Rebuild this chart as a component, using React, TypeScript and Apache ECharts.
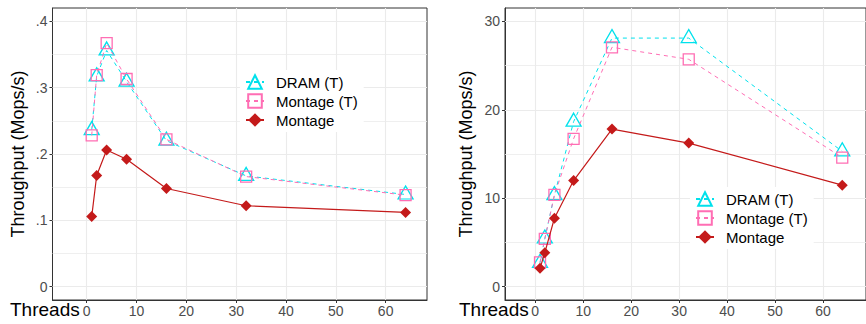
import React, { useEffect, useRef } from "react";
import * as echarts from "echarts";

const threads = [1, 2, 4, 8, 16, 32, 64];

const leftDram = [0.236, 0.317, 0.356, 0.309, 0.22, 0.167, 0.139];
const leftMontageT = [0.228, 0.319, 0.367, 0.313, 0.222, 0.166, 0.138];
const leftMontage = [0.1057, 0.1676, 0.206, 0.192, 0.148, 0.122, 0.112];

const rightDram = [2.7, 5.45, 10.35, 18.65, 28.1, 28.1, 15.3];
const rightMontageT = [2.76, 5.4, 10.38, 16.72, 27.06, 25.7, 14.6];
const rightMontage = [2.08, 3.85, 7.74, 12.0, 17.82, 16.23, 11.48];

const xTicks = [0, 10, 20, 30, 40, 50, 60];
const leftYTicks = [0, 0.1, 0.2, 0.3, 0.4];
const leftYMinor = [0.05, 0.15, 0.25, 0.35];
const rightYTicks = [0, 10, 20, 30];
const rightYMinor = [5, 15, 25];

const seriesNames = ["DRAM (T)", "Montage (T)", "Montage"];

const CYAN = "#00E1EC";
const PINK = "#FF6EB4";
const RED = "#C41A1A";
const FONT = "'Liberation Sans', Arial, Helvetica, sans-serif";

function fmtLeft(v: number) {
  if (v === 0) return "0";
  return String(Math.round(v * 10) / 10).replace(/^0/, "");
}

export default function App() {
  const ref = useRef<HTMLDivElement>(null);
  useEffect(() => {
    const chart = echarts.init(ref.current!, null, { renderer: "svg", width: 866, height: 324 });

    const grids = [
      { left: 52.5, top: 8, width: 374.5, height: 292 },
      { left: 505, top: 8, width: 374, height: 292 },
    ];
    const xRanges = [
      [-6.87, 68.3],
      [-6.3, 68.95],
    ];
    const yRanges = [
      [-0.02, 0.42],
      [-1.5, 31.5],
    ];
    const yTicks = [leftYTicks, rightYTicks];
    const yMinor = [leftYMinor, rightYMinor];
    const data = [
      [leftDram, leftMontageT, leftMontage],
      [rightDram, rightMontageT, rightMontage],
    ];

    const series: any[] = [];
    for (let g = 0; g < 2; g++) {
      series.push({
        type: "line",
        xAxisIndex: g,
        yAxisIndex: g,
        data: [],
        silent: true,
        z: 1,
        markLine: {
          silent: true,
          z: 1,
          symbol: ["none", "none"],
          label: { show: false },
          emphasis: { disabled: true },
          lineStyle: { color: "#EBEBEB", width: 1.1, type: "solid" },
          data: [
            ...yTicks[g].map((v) => ({ yAxis: v })),
            ...yMinor[g].map((v) => ({ yAxis: v, lineStyle: { width: 0.8, color: "#EBEBEB", type: "solid" } })),
            ...xTicks.map((v) => ({ xAxis: v })),
          ],
        },
      });
      const [dram, mt, m] = data[g];
      series.push({
        type: "line",
        name: seriesNames[0],
        xAxisIndex: g,
        yAxisIndex: g,
        data: threads.map((t, i) => [t, dram[i]]),
        symbol: "triangle",
        symbolSize: [15, 13],
        symbolOffset: [0, -2],
        lineStyle: { color: CYAN, width: 1, type: [4, 4] },
        itemStyle: { color: "rgba(0,0,0,0)", borderColor: CYAN, borderWidth: 1.3 },
        z: 3,
      });
      series.push({
        type: "line",
        name: seriesNames[1],
        xAxisIndex: g,
        yAxisIndex: g,
        data: threads.map((t, i) => [t, mt[i]]),
        symbol: "rect",
        symbolSize: 11,
        lineStyle: { color: PINK, width: 1, type: [4, 4] },
        itemStyle: { color: "rgba(0,0,0,0)", borderColor: PINK, borderWidth: 1.3 },
        z: 4,
      });
      series.push({
        type: "line",
        name: seriesNames[2],
        xAxisIndex: g,
        yAxisIndex: g,
        data: threads.map((t, i) => [t, m[i]]),
        symbol: "diamond",
        symbolSize: 11,
        lineStyle: { color: RED, width: 1.2, type: "solid" },
        itemStyle: { color: RED },
        z: 5,
      });
    }

    const option: any = {
      animation: false,
      textStyle: { fontFamily: FONT },
      grid: grids.map((gr) => ({
        ...gr,
        show: true,
        borderColor: "#333333",
        borderWidth: 1,
        backgroundColor: "rgba(0,0,0,0)",
        containLabel: false,
      })),
      xAxis: [0, 1].map((g) => ({
        type: "value",
        gridIndex: g,
        min: xRanges[g][0],
        max: xRanges[g][1],
        axisLine: { show: true, onZero: false, lineStyle: { color: "#333333", width: 1 } },
        axisTick: { show: true, customValues: xTicks, length: 3, lineStyle: { color: "#333333" } },
        axisLabel: {
          show: true,
          customValues: xTicks,
          color: "#4D4D4D",
          fontSize: 14,
          margin: 4,
          fontFamily: FONT,
        },
        splitLine: { show: false },
      })),
      yAxis: [0, 1].map((g) => ({
        type: "value",
        gridIndex: g,
        min: yRanges[g][0],
        max: yRanges[g][1],
        axisLine: { show: true, onZero: false, lineStyle: { color: "#333333", width: 1 } },
        axisTick: { show: true, customValues: yTicks[g], length: 3, lineStyle: { color: "#333333" } },
        axisLabel: {
          show: true,
          customValues: yTicks[g],
          color: "#4D4D4D",
          fontSize: 14,
          margin: 5,
          fontFamily: FONT,
          formatter: g === 0 ? (v: number) => fmtLeft(v) : (v: number) => String(v),
        },
        splitLine: { show: false },
      })),
      legend: [
        { left: 240, top: 70 },
        { left: 690, top: 187 },
      ].map((p) => ({
        ...p,
        z: 20,
        orient: "vertical",
        padding: [2.5, 6, 2.5, 5],
        backgroundColor: "#FFFFFF",
        itemGap: 0,
        itemWidth: 18,
        itemHeight: 17,
        selectedMode: false,
        data: seriesNames,
        formatter: (n: string) => `{t|${n}}`,
        textStyle: {
          fontSize: 15,
          color: "#000000",
          lineHeight: 19,
          fontFamily: FONT,
          rich: { t: { fontSize: 15, color: "#000000", lineHeight: 19, fontFamily: FONT, padding: [0, 0, 0, 7] } },
        },
      })),
      graphic: [
        { type: "text", x: 10, y: 309, style: { text: "Threads", fontSize: 19, fill: "#000", fontFamily: FONT, align: "left", verticalAlign: "middle" } },
        { type: "text", x: 459, y: 309, style: { text: "Threads", fontSize: 19, fill: "#000", fontFamily: FONT, align: "left", verticalAlign: "middle" } },
        { type: "text", x: 17.5, y: 154, rotation: Math.PI / 2, style: { text: "Throughput (Mops/s)", fontSize: 18, fill: "#000", fontFamily: FONT, align: "center", verticalAlign: "middle" } },
        { type: "text", x: 466, y: 154, rotation: Math.PI / 2, style: { text: "Throughput (Mops/s)", fontSize: 18, fill: "#000", fontFamily: FONT, align: "center", verticalAlign: "middle" } },
      ],
      series,
    };
    chart.setOption(option);
    return () => chart.dispose();
  }, []);
  return (
    <div
      ref={ref}
      style={{ position: "absolute", left: 0, top: 0, width: 866, height: 324, background: "#fff" }}
    />
  );
}
